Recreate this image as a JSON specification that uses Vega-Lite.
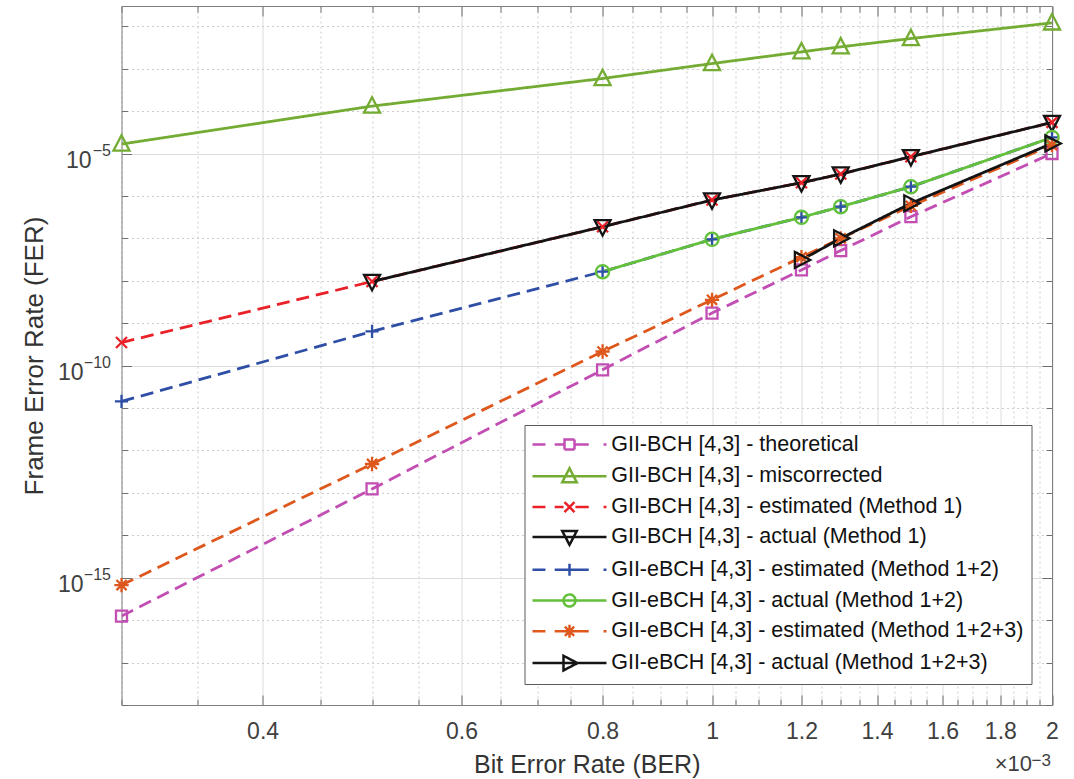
{
  "$schema": "https://vega.github.io/schema/vega-lite/v6.json",
  "autosize": "none",
  "width": 930.5,
  "height": 699,
  "padding": {"left": 121.5, "top": 6, "right": 22, "bottom": 74},
  "background": "white",
  "config": {
    "view": {"stroke": null},
    "font": "Liberation Sans",
    "axis": {
      "labelFont": "Liberation Sans",
      "titleFont": "Liberation Sans",
      "labelColor": "#404040",
      "titleColor": "#333333",
      "titleFontWeight": "normal",
      "domainColor": "#7f7f7f",
      "tickColor": "#6f6f6f",
      "tickWidth": 1
    },
    "legend": {
      "labelFont": "Liberation Sans",
      "labelFontSize": 21.5,
      "labelColor": "#111111",
      "labelLimit": 1000
    }
  },
  "data": {
    "values": [
      {"series": "GII-BCH [4,3] - theoretical", "ber": 0.3, "fer": 1.25e-16},
      {"series": "GII-BCH [4,3] - theoretical", "ber": 0.5, "fer": 1.24e-13},
      {"series": "GII-BCH [4,3] - theoretical", "ber": 0.8, "fer": 7.98e-11},
      {"series": "GII-BCH [4,3] - theoretical", "ber": 1.0, "fer": 1.73e-9},
      {"series": "GII-BCH [4,3] - theoretical", "ber": 1.2, "fer": 1.8e-8},
      {"series": "GII-BCH [4,3] - theoretical", "ber": 1.3, "fer": 5.14e-8},
      {"series": "GII-BCH [4,3] - theoretical", "ber": 1.5, "fer": 3.24e-7},
      {"series": "GII-BCH [4,3] - theoretical", "ber": 2.0, "fer": 1.0e-5},

      {"series": "GII-BCH [4,3] - miscorrected", "ber": 0.3, "fer": 1.67e-5},
      {"series": "GII-BCH [4,3] - miscorrected", "ber": 0.5, "fer": 1.31e-4},
      {"series": "GII-BCH [4,3] - miscorrected", "ber": 0.8, "fer": 5.86e-4},
      {"series": "GII-BCH [4,3] - miscorrected", "ber": 1.0, "fer": 1.32e-3},
      {"series": "GII-BCH [4,3] - miscorrected", "ber": 1.2, "fer": 2.49e-3},
      {"series": "GII-BCH [4,3] - miscorrected", "ber": 1.3, "fer": 3.27e-3},
      {"series": "GII-BCH [4,3] - miscorrected", "ber": 1.5, "fer": 5.13e-3},
      {"series": "GII-BCH [4,3] - miscorrected", "ber": 2.0, "fer": 1.2e-2},

      {"series": "GII-BCH [4,3] - estimated (Method 1)", "ber": 0.3, "fer": 3.5e-10},
      {"series": "GII-BCH [4,3] - estimated (Method 1)", "ber": 0.5, "fer": 9.6e-9},
      {"series": "GII-BCH [4,3] - estimated (Method 1)", "ber": 0.8, "fer": 1.88e-7},
      {"series": "GII-BCH [4,3] - estimated (Method 1)", "ber": 1.0, "fer": 8.0e-7},
      {"series": "GII-BCH [4,3] - estimated (Method 1)", "ber": 1.2, "fer": 2.05e-6},
      {"series": "GII-BCH [4,3] - estimated (Method 1)", "ber": 1.3, "fer": 3.28e-6},
      {"series": "GII-BCH [4,3] - estimated (Method 1)", "ber": 1.5, "fer": 8.4e-6},
      {"series": "GII-BCH [4,3] - estimated (Method 1)", "ber": 2.0, "fer": 5.4e-5},

      {"series": "GII-BCH [4,3] - actual (Method 1)", "ber": 0.5, "fer": 9.6e-9},
      {"series": "GII-BCH [4,3] - actual (Method 1)", "ber": 0.8, "fer": 1.88e-7},
      {"series": "GII-BCH [4,3] - actual (Method 1)", "ber": 1.0, "fer": 8.0e-7},
      {"series": "GII-BCH [4,3] - actual (Method 1)", "ber": 1.2, "fer": 2.05e-6},
      {"series": "GII-BCH [4,3] - actual (Method 1)", "ber": 1.3, "fer": 3.28e-6},
      {"series": "GII-BCH [4,3] - actual (Method 1)", "ber": 1.5, "fer": 8.4e-6},
      {"series": "GII-BCH [4,3] - actual (Method 1)", "ber": 2.0, "fer": 5.4e-5},

      {"series": "GII-eBCH [4,3] - estimated (Method 1+2)", "ber": 0.3, "fer": 1.43e-11},
      {"series": "GII-eBCH [4,3] - estimated (Method 1+2)", "ber": 0.5, "fer": 6.4e-10},
      {"series": "GII-eBCH [4,3] - estimated (Method 1+2)", "ber": 0.8, "fer": 1.64e-8},
      {"series": "GII-eBCH [4,3] - estimated (Method 1+2)", "ber": 1.0, "fer": 9.5e-8},
      {"series": "GII-eBCH [4,3] - estimated (Method 1+2)", "ber": 1.2, "fer": 3.13e-7},
      {"series": "GII-eBCH [4,3] - estimated (Method 1+2)", "ber": 1.3, "fer": 5.58e-7},
      {"series": "GII-eBCH [4,3] - estimated (Method 1+2)", "ber": 1.5, "fer": 1.65e-6},
      {"series": "GII-eBCH [4,3] - estimated (Method 1+2)", "ber": 2.0, "fer": 2.39e-5},

      {"series": "GII-eBCH [4,3] - actual (Method 1+2)", "ber": 0.8, "fer": 1.64e-8},
      {"series": "GII-eBCH [4,3] - actual (Method 1+2)", "ber": 1.0, "fer": 9.5e-8},
      {"series": "GII-eBCH [4,3] - actual (Method 1+2)", "ber": 1.2, "fer": 3.13e-7},
      {"series": "GII-eBCH [4,3] - actual (Method 1+2)", "ber": 1.3, "fer": 5.58e-7},
      {"series": "GII-eBCH [4,3] - actual (Method 1+2)", "ber": 1.5, "fer": 1.65e-6},
      {"series": "GII-eBCH [4,3] - actual (Method 1+2)", "ber": 2.0, "fer": 2.39e-5},

      {"series": "GII-eBCH [4,3] - estimated (Method 1+2+3)", "ber": 0.3, "fer": 6.7e-16},
      {"series": "GII-eBCH [4,3] - estimated (Method 1+2+3)", "ber": 0.5, "fer": 4.8e-13},
      {"series": "GII-eBCH [4,3] - estimated (Method 1+2+3)", "ber": 0.8, "fer": 2.15e-10},
      {"series": "GII-eBCH [4,3] - estimated (Method 1+2+3)", "ber": 1.0, "fer": 3.55e-9},
      {"series": "GII-eBCH [4,3] - estimated (Method 1+2+3)", "ber": 1.2, "fer": 3.59e-8},
      {"series": "GII-eBCH [4,3] - estimated (Method 1+2+3)", "ber": 1.3, "fer": 1.0e-7},
      {"series": "GII-eBCH [4,3] - estimated (Method 1+2+3)", "ber": 1.5, "fer": 5.8e-7},
      {"series": "GII-eBCH [4,3] - estimated (Method 1+2+3)", "ber": 2.0, "fer": 1.58e-5},

      {"series": "GII-eBCH [4,3] - actual (Method 1+2+3)", "ber": 1.2, "fer": 3.1e-8},
      {"series": "GII-eBCH [4,3] - actual (Method 1+2+3)", "ber": 1.3, "fer": 1.0e-7},
      {"series": "GII-eBCH [4,3] - actual (Method 1+2+3)", "ber": 1.5, "fer": 6.7e-7},
      {"series": "GII-eBCH [4,3] - actual (Method 1+2+3)", "ber": 2.0, "fer": 1.73e-5}
    ]
  },
  "layer": [
    {
      "mark": {"type": "line", "strokeWidth": 2.8, "clip": true},
      "encoding": {
        "x": {
          "field": "ber", "type": "quantitative",
          "scale": {"type": "log", "domain": [0.3, 2], "nice": false, "zero": false},
          "axis": {
            "orient": "bottom",
            "title": "Bit Error Rate (BER)",
            "titleFontSize": 25,
            "titlePadding": 5,
            "values": [0.3,0.35,0.4,0.45,0.5,0.55,0.6,0.65,0.7,0.75,0.8,0.85,0.9,0.95,1,1.05,1.1,1.15,1.2,1.25,1.3,1.35,1.4,1.45,1.5,1.55,1.6,1.65,1.7,1.75,1.8,1.85,1.9,1.95,2],
            "labelExpr": "abs(datum.value*5 - round(datum.value*5)) < 1e-6 ? format(datum.value, '~g') : ''",
            "labelFontSize": 23,
            "labelFlush": false,
            "labelOverlap": false,
            "labelPadding": 25,
            "tickSize": {"condition": {"test": "abs(datum.value*5 - round(datum.value*5)) < 1e-6", "value": -10}, "value": -6},
            "grid": true,
            "gridColor": {"condition": {"test": "abs(datum.value*5 - round(datum.value*5)) < 1e-6", "value": "#dcdcdc"}, "value": "#cccccc"},
            "gridDash": {"condition": {"test": "abs(datum.value*5 - round(datum.value*5)) < 1e-6", "value": []}, "value": [2, 3]},
            "gridWidth": 1
          }
        },
        "y": {
          "field": "fer", "type": "quantitative",
          "scale": {"type": "log", "domain": [1e-18, 0.03], "nice": false, "zero": false},
          "axis": {
            "orient": "left",
            "title": "Frame Error Rate (FER)",
            "titleFontSize": 26,
            "titlePadding": 10,
            "values": [1e-18,1e-17,1e-16,1e-15,1e-14,1e-13,1e-12,1e-11,1e-10,1e-9,1e-8,1e-7,1e-6,1e-5,1e-4,1e-3,1e-2],
            "labelExpr": "round(log(datum.value)/LN10) % 5 == 0 ? '10' : ''",
            "labelFontSize": 23,
            "labelOverlap": false,
            "labelPadding": {"condition": {"test": "round(log(datum.value)/LN10) == -5", "value": 40.5}, "value": 48.5},
            "labelOffset": 7,
            "tickSize": {"condition": {"test": "round(log(datum.value)/LN10) % 5 == 0", "value": -10}, "value": -6},
            "grid": true,
            "gridColor": {"condition": {"test": "round(log(datum.value)/LN10) % 5 == 0", "value": "#dcdcdc"}, "value": "#cccccc"},
            "gridDash": {"condition": {"test": "round(log(datum.value)/LN10) % 5 == 0", "value": []}, "value": [2, 3]},
            "gridWidth": 1
          }
        },
        "color": {
          "field": "series", "type": "nominal",
          "scale": {
            "domain": ["GII-BCH [4,3] - theoretical", "GII-BCH [4,3] - miscorrected", "GII-BCH [4,3] - estimated (Method 1)", "GII-BCH [4,3] - actual (Method 1)", "GII-eBCH [4,3] - estimated (Method 1+2)", "GII-eBCH [4,3] - actual (Method 1+2)", "GII-eBCH [4,3] - estimated (Method 1+2+3)", "GII-eBCH [4,3] - actual (Method 1+2+3)"],
            "range": ["#C24EB3", "#74AC33", "#EA2128", "#141414", "#2F4FA6", "#62C03B", "#DE581E", "#141414"]
          },
          "legend": {
            "title": null,
            "orient": "bottom-right",
            "offset": 21,
            "padding": 8,
            "rowPadding": 7.8,
            "labelOffset": 55.7,
            "strokeColor": "#5a5a5a",
            "fillColor": "white",
            "symbolStrokeWidth": 2.5,
            "symbolSize": 400,
            "encode": {
              "symbols": {
                "update": {
                  "size": {"value": 400},
                  "strokeWidth": {"value": 2.5},
                  "fill": {"value": "transparent"},
                  "strokeDash": {"value": [1, 0]},
                  "shape": {"signal": "['M-1.15,0H0.145M1.07,0H1.958M3.142,0H4.474M5.954,0H6.25M2.05,-0.5H3.05V0.5H2.05Z', 'M-1.15,0H6.25M2.55,-0.8L3.28,0.6L1.82,0.6Z', 'M-1.15,0H0.145M1.07,0H1.958M3.142,0H4.474M5.954,0H6.25M2.05,-0.5L3.05,0.5M2.05,0.5L3.05,-0.5', 'M-1.15,0H6.25M2.55,0.8L3.28,-0.6L1.82,-0.6Z', 'M-1.15,0H0.145M1.07,0H1.958M3.142,0H4.474M5.954,0H6.25M1.95,0H3.15M2.55,-0.6V0.6', 'M-1.15,0H6.25M3.15,0A0.6,0.6 0 1,1 1.95,0A0.6,0.6 0 1,1 3.15,0Z', 'M-1.15,0H0.145M1.07,0H1.958M3.142,0H4.474M5.954,0H6.25M1.9,0H3.2M2.55,-0.65V0.65M2.09,-0.46L3.01,0.46M2.09,0.46L3.01,-0.46', 'M-1.15,0H6.25M3.35,0L1.95,0.73L1.95,-0.73Z'][datum.index]"}
                }
              }
            }
          }
        },
        "strokeDash": {
          "field": "series", "type": "nominal",
          "scale": {
            "domain": ["GII-eBCH [4,3] - actual (Method 1+2+3)", "GII-eBCH [4,3] - estimated (Method 1+2+3)", "GII-eBCH [4,3] - actual (Method 1+2)", "GII-eBCH [4,3] - estimated (Method 1+2)", "GII-BCH [4,3] - actual (Method 1)", "GII-BCH [4,3] - estimated (Method 1)", "GII-BCH [4,3] - miscorrected", "GII-BCH [4,3] - theoretical"],
            "range": [[1, 0], [13, 7], [1, 0], [13, 7], [1, 0], [13, 7], [1, 0], [13, 7]]
          },
          "legend": null
        }
      }
    },
    {
      "mark": {"type": "point", "filled": false, "size": 484, "strokeWidth": 2.3, "opacity": 1},
      "encoding": {
        "x": {
          "field": "ber", "type": "quantitative",
          "axis": {
            "orient": "top",
            "title": null,
            "labels": false,
            "grid": false,
            "values": [0.3,0.35,0.4,0.45,0.5,0.55,0.6,0.65,0.7,0.75,0.8,0.85,0.9,0.95,1,1.05,1.1,1.15,1.2,1.25,1.3,1.35,1.4,1.45,1.5,1.55,1.6,1.65,1.7,1.75,1.8,1.85,1.9,1.95,2],
            "tickSize": {"condition": {"test": "abs(datum.value*5 - round(datum.value*5)) < 1e-6", "value": -10}, "value": -6}
          }
        },
        "y": {
          "field": "fer", "type": "quantitative",
          "axis": {
            "orient": "right",
            "title": null,
            "labels": false,
            "grid": false,
            "values": [1e-18,1e-17,1e-16,1e-15,1e-14,1e-13,1e-12,1e-11,1e-10,1e-9,1e-8,1e-7,1e-6,1e-5,1e-4,1e-3,1e-2],
            "tickSize": {"condition": {"test": "round(log(datum.value)/LN10) % 5 == 0", "value": -10}, "value": -6}
          }
        },
        "color": {
          "field": "series", "type": "nominal",
          "scale": {
            "domain": ["GII-BCH [4,3] - theoretical", "GII-BCH [4,3] - miscorrected", "GII-BCH [4,3] - estimated (Method 1)", "GII-BCH [4,3] - actual (Method 1)", "GII-eBCH [4,3] - estimated (Method 1+2)", "GII-eBCH [4,3] - actual (Method 1+2)", "GII-eBCH [4,3] - estimated (Method 1+2+3)", "GII-eBCH [4,3] - actual (Method 1+2+3)"],
            "range": ["#C24EB3", "#74AC33", "#EA2128", "#141414", "#2F4FA6", "#62C03B", "#DE581E", "#141414"]
          },
          "legend": {
            "title": null,
            "orient": "bottom-right",
            "offset": 21,
            "padding": 8,
            "rowPadding": 7.8,
            "labelOffset": 55.7,
            "strokeColor": "#5a5a5a",
            "fillColor": "white",
            "symbolStrokeWidth": 2.5,
            "symbolSize": 400,
            "encode": {
              "symbols": {
                "update": {
                  "size": {"value": 400},
                  "strokeWidth": {"value": 2.5},
                  "fill": {"value": "transparent"},
                  "strokeDash": {"value": [1, 0]},
                  "shape": {"signal": "['M-1.15,0H0.145M1.07,0H1.958M3.142,0H4.474M5.954,0H6.25M2.05,-0.5H3.05V0.5H2.05Z', 'M-1.15,0H6.25M2.55,-0.8L3.28,0.6L1.82,0.6Z', 'M-1.15,0H0.145M1.07,0H1.958M3.142,0H4.474M5.954,0H6.25M2.05,-0.5L3.05,0.5M2.05,0.5L3.05,-0.5', 'M-1.15,0H6.25M2.55,0.8L3.28,-0.6L1.82,-0.6Z', 'M-1.15,0H0.145M1.07,0H1.958M3.142,0H4.474M5.954,0H6.25M1.95,0H3.15M2.55,-0.6V0.6', 'M-1.15,0H6.25M3.15,0A0.6,0.6 0 1,1 1.95,0A0.6,0.6 0 1,1 3.15,0Z', 'M-1.15,0H0.145M1.07,0H1.958M3.142,0H4.474M5.954,0H6.25M1.9,0H3.2M2.55,-0.65V0.65M2.09,-0.46L3.01,0.46M2.09,0.46L3.01,-0.46', 'M-1.15,0H6.25M3.35,0L1.95,0.73L1.95,-0.73Z'][datum.index]"}
                }
              }
            }
          }
        },
        "shape": {
          "field": "series", "type": "nominal",
          "scale": {
            "domain": ["GII-eBCH [4,3] - actual (Method 1+2+3)", "GII-eBCH [4,3] - estimated (Method 1+2+3)", "GII-eBCH [4,3] - actual (Method 1+2)", "GII-eBCH [4,3] - estimated (Method 1+2)", "GII-BCH [4,3] - actual (Method 1)", "GII-BCH [4,3] - estimated (Method 1)", "GII-BCH [4,3] - miscorrected", "GII-BCH [4,3] - theoretical"],
            "range": [
              "M0.8,0L-0.6,0.73L-0.6,-0.73Z",
              "M-0.65,0H0.65M0,-0.65V0.65M-0.46,-0.46L0.46,0.46M-0.46,0.46L0.46,-0.46",
              "M0.6,0A0.6,0.6 0 1,1 -0.6,0A0.6,0.6 0 1,1 0.6,0Z",
              "M-0.6,0H0.6M0,-0.6V0.6",
              "M0,0.8L0.73,-0.6L-0.73,-0.6Z",
              "M-0.5,-0.5L0.5,0.5M-0.5,0.5L0.5,-0.5",
              "M0,-0.8L0.73,0.6L-0.73,0.6Z",
              "M-0.5,-0.5H0.5V0.5H-0.5Z"
            ]
          },
          "legend": null
        }
      }
    },
    {
      "data": {"values": [{"fer": 1e-5, "exponent": "−5"}, {"fer": 1e-10, "exponent": "−10"}, {"fer": 1e-15, "exponent": "−15"}]},
      "mark": {"type": "text", "align": "right", "baseline": "alphabetic", "dx": -10.5, "dy": 2.5, "fontSize": 16, "font": "Liberation Sans", "color": "#404040"},
      "encoding": {
        "x": {"datum": 0.3, "type": "quantitative", "axis": null},
        "y": {"field": "fer", "type": "quantitative", "axis": null},
        "text": {"field": "exponent"}
      }
    },
    {
      "data": {"values": [{"note": "×10"}]},
      "mark": {"type": "text", "align": "right", "baseline": "alphabetic", "dx": -20, "dy": 66, "fontSize": 22, "font": "Liberation Sans", "color": "#404040"},
      "encoding": {
        "x": {"datum": 2, "type": "quantitative", "axis": null},
        "y": {"datum": 1e-18, "type": "quantitative", "axis": null},
        "text": {"field": "note"}
      }
    },
    {
      "data": {"values": [{"note": "−3"}]},
      "mark": {"type": "text", "align": "right", "baseline": "alphabetic", "dx": -1, "dy": 61, "fontSize": 17, "font": "Liberation Sans", "color": "#404040"},
      "encoding": {
        "x": {"datum": 2, "type": "quantitative", "axis": null},
        "y": {"datum": 1e-18, "type": "quantitative", "axis": null},
        "text": {"field": "note"}
      }
    }
  ],
  "resolve": {"axis": {"x": "independent", "y": "independent"}}
}
